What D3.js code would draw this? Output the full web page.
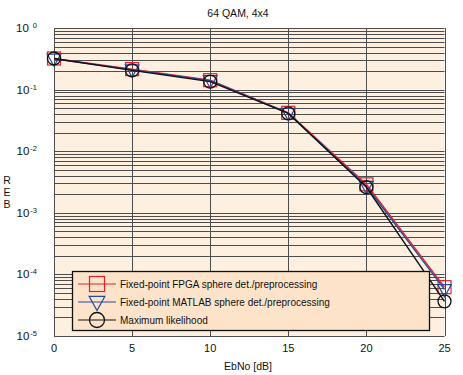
<!DOCTYPE html>
<html>
<head>
<meta charset="utf-8">
<script src="https://cdn.jsdelivr.net/npm/d3@7"></script>
<style>
  body { margin: 0; background: #fff; }
  text { font-family: "Liberation Sans", Arial, sans-serif; fill: #111; }
</style>
</head>
<body>
<script>
const margin = ({top: 28, right: 18, bottom: 38, left: 54})
const width = 463
const height = 375

// chart data
const ebno = [0, 5, 10, 15, 20, 25]
const fpga = [0.32, 0.215, 0.142, 0.042, 0.0029, 0.000062]
const matlab = [0.315, 0.21, 0.14, 0.0415, 0.0027, 0.000057]
const ml = [0.32, 0.205, 0.135, 0.041, 0.0026, 0.0000365]
const xTicks = [0, 5, 10, 15, 20, 25]
const yExponents = [0, -1, -2, -3, -4, -5]
const seriesNames = ["Fixed-point FPGA sphere det./preprocessing",
                     "Fixed-point MATLAB sphere det./preprocessing",
                     "Maximum likelihood"]

const series = [
  {name: seriesNames[0], values: fpga, color: "#e8202a", marker: "square"},
  {name: seriesNames[1], values: matlab, color: "#2a4aa0", marker: "triangle"},
  {name: seriesNames[2], values: ml, color: "#111111", marker: "circle"}
]

const x = d3.scaleLinear()
    .domain([0, 25])
    .range([margin.left, width - margin.right - 0.5])
const y = d3.scaleLog()
    .domain([1e-5, 1])
    .range([height - margin.bottom - 1, margin.top])

const svg = d3.select("body").append("svg")
    .attr("viewBox", [0, 0, width, height])
    .attr("width", width)
    .attr("height", height)

// plot background
svg.append("rect")
    .attr("x", x(0)).attr("y", y(1))
    .attr("width", x(25) - x(0)).attr("height", y(1e-5) - y(1))
    .attr("fill", "#fdf0e1")

// grid
const minor = []
for (let e = -5; e < 0; e++) for (let m = 1; m <= 9; m++) minor.push(m * Math.pow(10, e))
minor.push(1)
const grid = svg.append("g").attr("stroke", "#4d4d4d").attr("stroke-width", 1)
grid.selectAll(".h").data(minor).join("line")
    .attr("x1", x(0)).attr("x2", x(25))
    .attr("y1", d => Math.round(y(d)) + 0.5).attr("y2", d => Math.round(y(d)) + 0.5)
grid.selectAll(".v").data(xTicks).join("line")
    .attr("x1", d => Math.round(x(d)) + 0.5).attr("x2", d => Math.round(x(d)) + 0.5)
    .attr("y1", y(1)).attr("y2", y(1e-5))

// title
svg.append("text")
    .attr("x", 238).attr("y", 17)
    .attr("text-anchor", "middle")
    .attr("font-size", 10.5)
    .text("64 QAM, 4x4")

// y tick labels
const yl = svg.append("g").selectAll("text").data(yExponents).join("text")
    .attr("x", 37).attr("y", d => y(Math.pow(10, d)) + 4)
    .attr("text-anchor", "end")
    .attr("font-size", 11.5)
yl.append("tspan").text("10")
yl.append("tspan")
    .attr("dx", d => d === 0 ? 4 : 1).attr("dy", -4)
    .attr("font-size", 7.5)
    .text(d => d === 0 ? "0" : "-" + Math.abs(d))

// y label stacked letters
svg.append("g").selectAll("text").data(["R", "E", "B"]).join("text")
    .attr("x", 7).attr("y", (d, i) => 184 + i * 12)
    .attr("text-anchor", "middle")
    .attr("font-size", 10.5)
    .text(d => d)

// x tick labels
svg.append("g").selectAll("text").data(xTicks).join("text")
    .attr("x", d => x(d)).attr("y", 352)
    .attr("text-anchor", "middle")
    .attr("font-size", 11)
    .text(d => d)

svg.append("text")
    .attr("x", 248).attr("y", 370)
    .attr("text-anchor", "middle")
    .attr("font-size", 10.5)
    .text("EbNo [dB]")

// marker drawing
function marker(g, type, color, s) {
  if (type === "square") {
    g.append("rect").attr("x", -s / 2).attr("y", -s / 2).attr("width", s).attr("height", s)
      .attr("fill", "none").attr("stroke", color).attr("stroke-width", 1.2)
  } else if (type === "triangle") {
    const h = s * 0.5
    g.append("path").attr("d", `M${-h * 1.05},${-h * 0.75}L${h * 1.05},${-h * 0.75}L0,${h * 1.15}Z`)
      .attr("fill", "none").attr("stroke", color).attr("stroke-width", 1.2)
  } else {
    g.append("circle").attr("r", s / 2)
      .attr("fill", "none").attr("stroke", color).attr("stroke-width", 1.3)
  }
}

const line = d3.line().x(d => x(d[0])).y(d => y(d[1]))

series.forEach(s => {
  const pts = ebno.map((e, i) => [e, s.values[i]])
  svg.append("path")
    .attr("d", line(pts))
    .attr("fill", "none")
    .attr("stroke", s.color)
    .attr("stroke-width", 1.4)
  pts.forEach(p => {
    const g = svg.append("g").attr("transform", `translate(${x(p[0])},${y(p[1])})`)
    marker(g, s.marker, s.color, 13)
  })
})

// legend
const lg = svg.append("g")
lg.append("rect")
    .attr("x", 72.5).attr("y", 271.5)
    .attr("width", 357).attr("height", 59)
    .attr("fill", "#fce3ca")
    .attr("stroke", "#111").attr("stroke-width", 1.3)
series.forEach((s, i) => {
  const cy = 284 + i * 18
  const g = lg.append("g").attr("transform", `translate(97,${cy})`)
  g.append("line").attr("x1", -19).attr("x2", 19).attr("stroke", s.color).attr("stroke-width", 1.2)
  marker(g, s.marker, s.color, 15)
  lg.append("text")
    .attr("x", 120).attr("y", cy + 4)
    .attr("font-size", 10)
    .text(s.name)
})
</script>
</body>
</html>
